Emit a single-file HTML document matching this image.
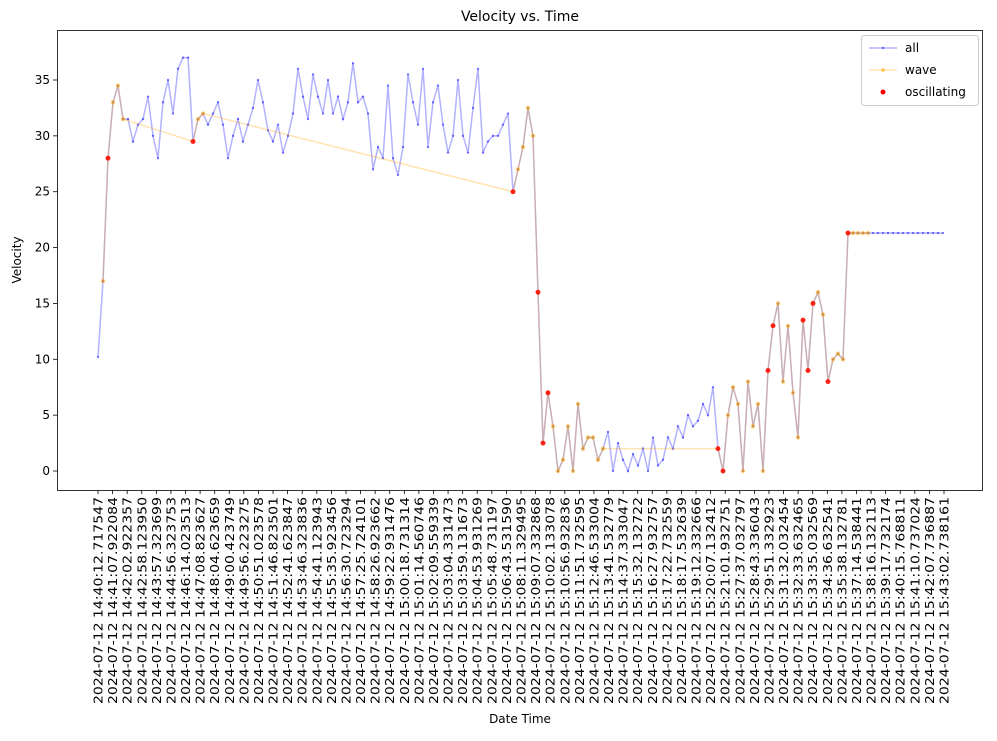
<!DOCTYPE html>
<html><head><meta charset="utf-8"><style>
body{margin:0;background:#fff;font-family:"Liberation Sans","DejaVu Sans",sans-serif}
svg text{font-family:"DejaVu Sans","Liberation Sans",sans-serif;fill:#000}
</style></head><body>
<svg id="chart" width="997" height="736" xmlns="http://www.w3.org/2000/svg">
<rect width="997" height="736" fill="#fff"/>
<text x="520" y="21" font-size="14" text-anchor="middle">Velocity vs. Time</text>
<text x="21" y="260" font-size="12" text-anchor="middle" transform="rotate(-90 21 260)">Velocity</text>
<text x="520" y="723" font-size="12" text-anchor="middle">Date Time</text>
<g id="plot"></g>
<g id="yaxis"></g>
<g id="xaxis"></g>
<rect x="57.5" y="30.5" width="925" height="460" fill="none" stroke="#000" stroke-width="0.8"/>
<g>
<rect x="861.5" y="35.5" width="117" height="70" rx="3" fill="#fff" fill-opacity="0.8" stroke="#ccc"/>
<line x1="869" y1="48" x2="897" y2="48" stroke="blue" stroke-opacity="0.3" stroke-width="1.5"/>
<circle cx="883" cy="48" r="1.2" fill="blue" fill-opacity="0.5"/>
<text x="905" y="52" font-size="12">all</text>
<line x1="869" y1="70" x2="897" y2="70" stroke="orange" stroke-opacity="0.3" stroke-width="1.5"/>
<circle cx="883" cy="70" r="2" fill="orange" fill-opacity="0.5"/>
<text x="905" y="74" font-size="12">wave</text>
<circle cx="883" cy="92" r="2.5" fill="red"/>
<text x="905" y="96" font-size="12">oscillating</text>
</g>
</svg>
<script>
const tickLabels=["14:40:12.717547","14:41:07.922084","14:42:02.922357","14:42:58.123950","14:43:57.323699","14:44:56.323753","14:46:14.023513","14:47:08.823627","14:48:04.623659","14:49:00.423749","14:49:56.223275","14:50:51.023578","14:51:46.823501","14:52:41.623847","14:53:46.323836","14:54:41.123943","14:55:35.923456","14:56:30.723294","14:57:25.724101","14:58:26.923662","14:59:22.931476","15:00:18.731314","15:01:14.560746","15:02:09.559339","15:03:04.331473","15:03:59.131673","15:04:53.931269","15:05:48.731197","15:06:43.531590","15:08:11.329495","15:09:07.332868","15:10:02.133078","15:10:56.932836","15:11:51.732595","15:12:46.533004","15:13:41.532779","15:14:37.333047","15:15:32.132722","15:16:27.932757","15:17:22.732559","15:18:17.532639","15:19:12.332666","15:20:07.132412","15:21:01.932751","15:27:37.032797","15:28:43.336043","15:29:51.332923","15:31:32.032454","15:32:33.632465","15:33:35.032569","15:34:36.632541","15:35:38.132781","15:37:14.538441","15:38:16.132113","15:39:17.732174","15:40:15.768811","15:41:10.737024","15:42:07.736887","15:43:02.738161"];
const yTicks=[0,5,10,15,20,25,30,35];
const velocity=[10.2,17,28,33,34.5,31.5,31.5,29.5,31,31.5,33.5,30,28,33,35,32,36,37,37,29.5,31.5,32,31,32,33,31,28,30,31.5,29.5,31,32.5,35,33,30.5,29.5,31,28.5,30,32,36,33.5,31.5,35.5,33.5,32,35,32,33.5,31.5,33,36.5,33,33.5,32,27,29,28,34.5,28,26.5,29,35.5,33,31,36,29,33,34.5,31,28.5,30,35,30,28.5,32.5,36,28.5,29.5,30,30,31,32,25,27,29,32.5,30,16,2.5,7,4,0,1,4,0,6,2,3,3,1,2,3.5,0,2.5,1,0,1.5,0.5,2,0,3,0.5,1,3,2,4,3,5,4,4.5,6,5,7.5,2,0,5,7.5,6,0,8,4,6,0,9,13,15,8,13,7,3,13.5,9,15,16,14,8,10,10.5,10,21.3,21.3,21.3,21.3,21.3,21.3,21.3,21.3,21.3,21.3,21.3,21.3,21.3,21.3,21.3,21.3,21.3,21.3,21.3,21.3];
const waveIdx=[1,2,3,4,5,19,20,21,83,84,85,86,87,88,89,90,91,92,93,94,95,96,97,98,99,100,101,124,125,126,127,128,129,130,131,132,133,134,135,136,137,138,139,140,141,142,143,144,145,146,147,148,149,150,151,152,153,154];
const oscIdx=[2,19,83,88,89,90,124,125,134,135,141,142,143,146,150];
const NS="http://www.w3.org/2000/svg";
const X0=98,XSTEP=5,TICK0=98,TICK1=944;
function xs(i){return X0+i*XSTEP;}
function ys(v){return 471-v*(391/35);}
const plot=document.getElementById('plot');
function mk(t,a,p){const e=document.createElementNS(NS,t);for(const k in a)e.setAttribute(k,a[k]);p.appendChild(e);return e;}
let d=velocity.map((v,i)=>(i?'L':'M')+xs(i)+' '+ys(v)).join(' ');
const allLine=mk('path',{d:d,fill:'none',stroke:'blue','stroke-opacity':0.3,'stroke-width':1.5},plot);


velocity.forEach((v,i)=>{const c=mk('circle',{cx:xs(i),cy:ys(v),r:1.2,fill:'blue','fill-opacity':0.5},plot);

});
let wd=waveIdx.map((i,k)=>(k?'L':'M')+xs(i)+' '+ys(velocity[i])).join(' ');
const waveLine=mk('path',{d:wd,fill:'none',stroke:'orange','stroke-opacity':0.3,'stroke-width':1.5},plot);


waveIdx.forEach(i=>{const c=mk('circle',{cx:xs(i),cy:ys(velocity[i]),r:2.2,fill:'orange','fill-opacity':0.55},plot);

});
oscIdx.forEach(i=>{const c=mk('circle',{cx:xs(i),cy:ys(velocity[i]),r:2.5,fill:'red','fill-opacity':0.8},plot);

});
const ya=document.getElementById('yaxis');
yTicks.forEach(v=>{const y=ys(v);mk('line',{x1:53,x2:57,y1:y,y2:y,stroke:'#000','stroke-width':0.8},ya);
const t=mk('text',{x:50,y:y+4,'font-size':12,'text-anchor':'end'},ya);t.textContent=v;

});
const xa=document.getElementById('xaxis');
const step=(TICK1-TICK0)/(tickLabels.length-1);
tickLabels.forEach((s,k)=>{const x=TICK0+k*step;mk('line',{x1:x,x2:x,y1:490,y2:494,stroke:'#000','stroke-width':0.8},xa);
const t=mk('text',{x:x+4.5,y:497,'font-size':12.5,'text-anchor':'end',textLength:207,lengthAdjust:'spacingAndGlyphs',transform:'rotate(-90 '+(x+4.5)+' 497)'},xa);
t.textContent='2024-07-12 '+s;

});
</script>
</body></html>
